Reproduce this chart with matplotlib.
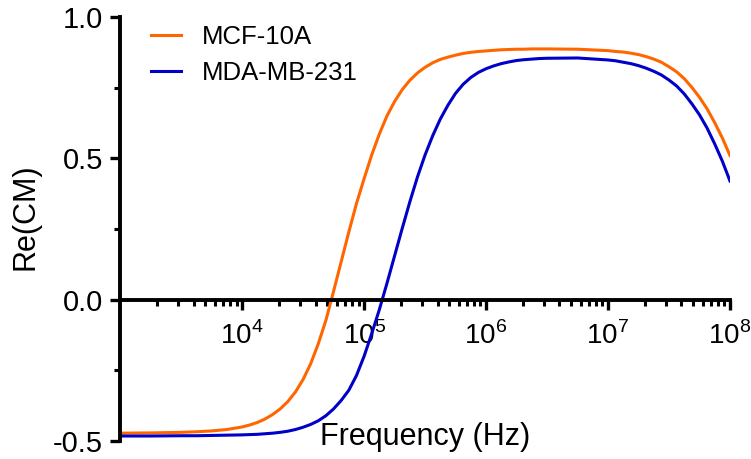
import matplotlib
matplotlib.use("Agg")
import matplotlib.pyplot as plt
import numpy as np

plt.rcParams['font.family'] = ['Liberation Sans', 'DejaVu Sans']
plt.rcParams['mathtext.fontset'] = 'custom'
plt.rcParams['mathtext.rm'] = 'Liberation Sans'

# log10 of frequency (Hz); denser where the curves bend
log_freq = [3.0, 3.25, 3.5, 3.625, 3.75, 3.875,
            4.0, 4.0625, 4.125, 4.1875, 4.25, 4.3125, 4.375, 4.4375,
            4.5, 4.5625, 4.625, 4.6875, 4.75, 4.8125, 4.875, 4.9375,
            5.0, 5.0625, 5.125, 5.1875, 5.25, 5.3125, 5.375, 5.4375,
            5.5, 5.5625, 5.625, 5.6875, 5.75, 5.8125, 5.875, 5.9375,
            6.0, 6.0625, 6.125, 6.1875, 6.25, 6.3125, 6.375, 6.4375, 6.5,
            6.75,
            7.0, 7.0625, 7.125, 7.1875, 7.25, 7.3125, 7.375, 7.4375,
            7.5, 7.5625, 7.625, 7.6875, 7.75, 7.8125, 7.875, 7.9375, 8.0]

mcf10a = [-0.472, -0.471, -0.469, -0.467, -0.464, -0.459,
          -0.450, -0.443, -0.434, -0.422, -0.406, -0.386, -0.360, -0.326,
          -0.282, -0.226, -0.155, -0.072, 0.030, 0.135, 0.240, 0.340,
          0.428, 0.512, 0.586, 0.650, 0.701, 0.743, 0.776, 0.802,
          0.822, 0.838, 0.850, 0.858, 0.865, 0.871, 0.875, 0.878,
          0.880, 0.882, 0.884, 0.885, 0.886, 0.886, 0.887, 0.887, 0.887,
          0.886,
          0.881, 0.878, 0.876, 0.872, 0.867, 0.860, 0.851, 0.840,
          0.824, 0.806, 0.782, 0.751, 0.716, 0.675, 0.626, 0.572, 0.510]

mda231 = [-0.482, -0.482, -0.481, -0.481, -0.480, -0.479,
          -0.478, -0.477, -0.476, -0.474, -0.472, -0.469, -0.465, -0.459,
          -0.451, -0.441, -0.428, -0.410, -0.386, -0.356, -0.320, -0.268,
          -0.200, -0.120, -0.035, 0.058, 0.155, 0.252, 0.346, 0.434,
          0.512, 0.580, 0.639, 0.688, 0.730, 0.762, 0.786, 0.804,
          0.817, 0.827, 0.835, 0.841, 0.846, 0.849, 0.851, 0.853, 0.854,
          0.855,
          0.848, 0.845, 0.840, 0.835, 0.828, 0.819, 0.808, 0.795,
          0.777, 0.756, 0.728, 0.693, 0.654, 0.607, 0.551, 0.490, 0.420]

freq = 10.0 ** np.array(log_freq)

fig = plt.figure(figsize=(7.51, 4.59), dpi=100)
ax = fig.add_axes([0.16, 0.039, 0.812, 0.924])

ax.plot(freq, mcf10a, color='#FF6600', lw=2.2, label='MCF-10A',
        solid_joinstyle='round')
ax.plot(freq, mda231, color='#0000C8', lw=2.2, label='MDA-MB-231',
        solid_joinstyle='round')

ax.set_xscale('log')
ax.set_xlim(1e3, 1e8)
ax.set_ylim(-0.5, 1.0)

ax.spines['top'].set_visible(False)
ax.spines['right'].set_visible(False)
ax.spines['bottom'].set_position(('data', 0))
ax.spines['left'].set_linewidth(2.8)
ax.spines['bottom'].set_linewidth(2.8)

ax.set_xticks([1e4, 1e5, 1e6, 1e7, 1e8])
ax.set_xticklabels([r'$10^{4}$', r'$10^{5}$', r'$10^{6}$', r'$10^{7}$', r'$10^{8}$'])
ax.set_yticks([-0.5, 0.0, 0.5, 1.0])
ax.set_yticklabels(['-0.5', '0.0', '0.5', '1.0'])
ax.set_yticks([-0.25, 0.25, 0.75], minor=True)

ax.tick_params(axis='both', which='major', direction='out', length=7.5, width=2.4)
ax.tick_params(axis='y', which='major', labelsize=21, pad=5)
ax.tick_params(axis='x', which='major', labelsize=20, pad=8)
ax.tick_params(axis='both', which='minor', direction='out', length=4, width=2.2)

ax.set_ylabel('Re(CM)', fontsize=22)
ax.yaxis.set_label_coords(-0.131, 0.53)
ax.set_xlabel('Frequency (Hz)', fontsize=22)
ax.xaxis.set_label_coords(0.5, 0.045)

ax.legend(loc='upper left', bbox_to_anchor=(0.012, 1.035), frameon=False,
          fontsize=18.5, handlelength=1.2, handletextpad=0.8, labelspacing=0.45)

fig.savefig('out.png', dpi=100)
